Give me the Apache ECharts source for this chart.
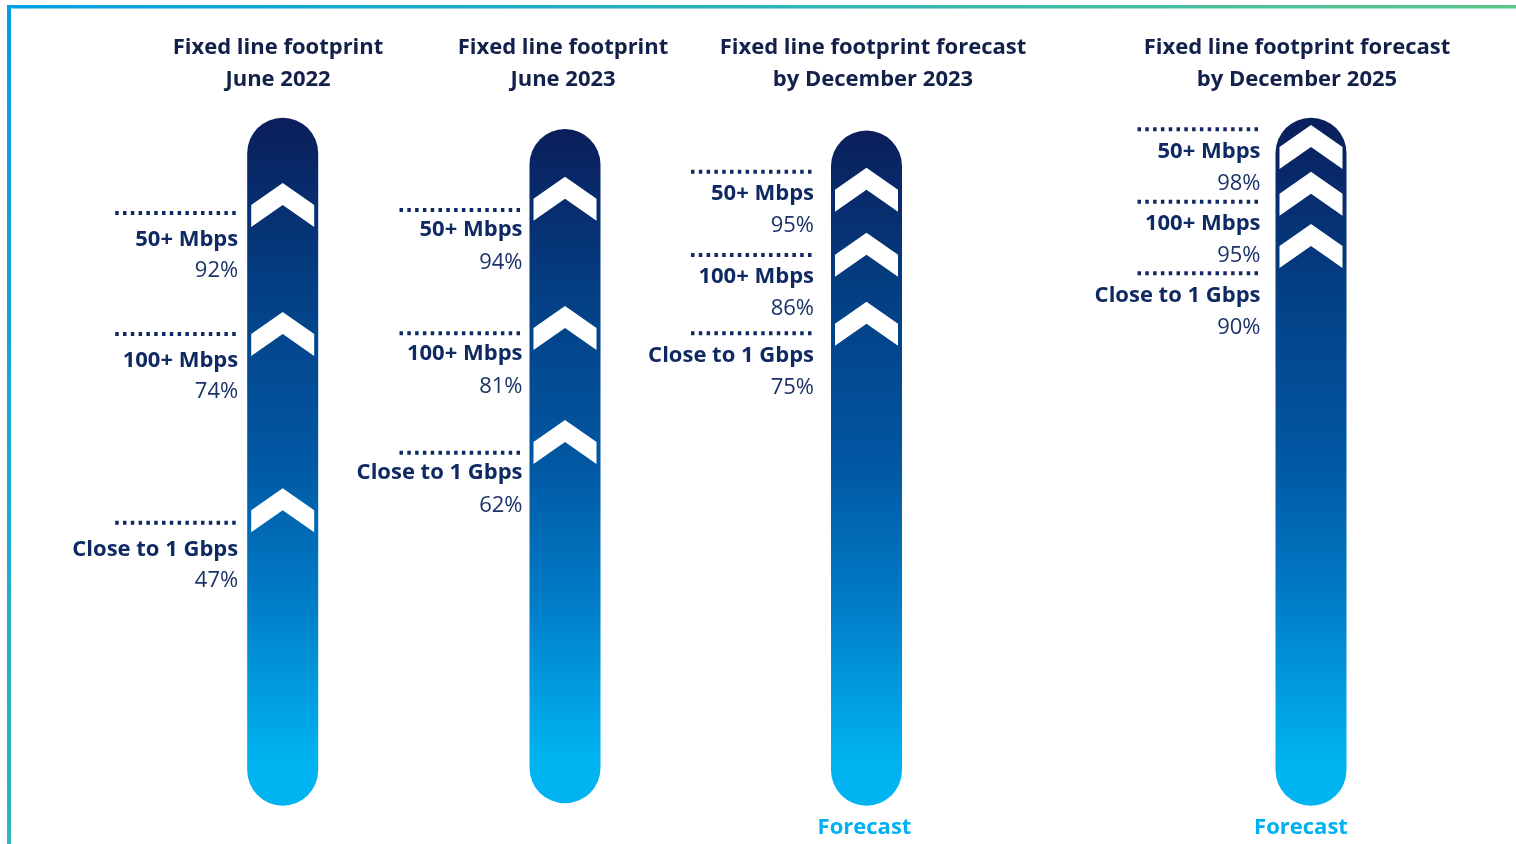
<!DOCTYPE html>
<html><head><meta charset="utf-8">
<script src="https://cdn.jsdelivr.net/npm/echarts@6/dist/echarts.min.js"></script>
<style>html,body{margin:0;padding:0;background:#fff}#c{width:1516px;height:844px}</style>
</head><body><div id="c"></div>
<script>
// ---- data ----
const columnTitles = [
  'Fixed line footprint\nJune 2022',
  'Fixed line footprint\nJune 2023',
  'Fixed line footprint forecast\nby December 2023',
  'Fixed line footprint forecast\nby December 2025'
];
const tiers = ['50+ Mbps', '100+ Mbps', 'Close to 1 Gbps'];
const coverageJun2022 = [92, 74, 47];
const coverageJun2023 = [94, 81, 62];
const forecastDec2023 = [95, 86, 75];
const forecastDec2025 = [98, 95, 90];
const isForecast = [false, false, true, true];
const forecastText = 'Forecast';
const footprintTrack = 100; // full footprint bar

const coverage = [coverageJun2022, coverageJun2023, forecastDec2023, forecastDec2025];

// ---- layout (axis units on a 0-100 track axis per column) ----
const layout = [
  {cx: 282.7, top: 117.7, bottom: 805.7, rows: [86.14, 68.56, 41.13], chev: [87.31, 68.56, 42.94], gap: 8,  nameDy: 27, pctDy: 58, titleX: 278, labShift: 0},
  {cx: 565,   top: 129,   bottom: 803.3, rows: [87.99, 69.70, 51.99], chev: [89.66, 70.49, 53.58], gap: 6,  nameDy: 20, pctDy: 53, titleX: 563, labShift: 0},
  {cx: 866.5, top: 130.5, bottom: 805.7, rows: [93.90, 81.56, 69.96], chev: [91.23, 81.61, 71.39], gap: 16, nameDy: 22, pctDy: 54, titleX: 873, labShift: -2},
  {cx: 1311,  top: 117.7, bottom: 805.7, rows: [98.31, 87.79, 77.38], chev: [95.74, 88.95, 81.35], gap: 14, nameDy: 22, pctDy: 54, titleX: 1297, labShift: -10}
];

const FONT = '"Open Sans", "Noto Sans", sans-serif';
const FS = 22;
const NAVY = '#0f2a62';
const TITLE = '#13204a';
const CYAN = '#00b0f0';
const BAR_W = 71;
const CHEVRON = 'path://M0,22L32,0L64,22L64,44L32,22L0,44Z';

const barGradient = new echarts.graphic.LinearGradient(0, 0, 0, 1, [
  {offset: 0, color: '#0b1e5b'},
  {offset: 0.25, color: '#033f84'},
  {offset: 0.5, color: '#0158a3'},
  {offset: 0.7, color: '#007cc7'},
  {offset: 0.85, color: '#00a0e2'},
  {offset: 0.93, color: '#00b2f0'},
  {offset: 1, color: '#00b4f2'}
]);

const grid = [], xAxis = [], yAxis = [], series = [], title = [];
layout.forEach((L, i) => {
  grid.push({left: L.cx - 80, width: 160, top: L.top, height: L.bottom - L.top, containLabel: false});
  xAxis.push({
    gridIndex: i, type: 'category', data: [columnTitles[i]],
    axisLine: {show: false}, axisTick: {show: false}, splitLine: {show: false},
    axisLabel: {
      show: true, margin: 11, fontFamily: FONT, fontWeight: 'bold', fontSize: FS, color: CYAN,
      padding: L.labShift < 0 ? [0, -2 * L.labShift, 0, 0] : 0,
      formatter: () => isForecast[i] ? forecastText : ''
    }
  });
  yAxis.push({gridIndex: i, type: 'value', min: 0, max: footprintTrack, show: false});
  title.push({
    text: columnTitles[i], left: L.titleX, top: 32, textAlign: 'center', padding: 0,
    textStyle: {fontFamily: FONT, fontWeight: 'bold', fontSize: FS, color: TITLE, lineHeight: 32}
  });
  series.push({
    type: 'bar', xAxisIndex: i, yAxisIndex: i, data: [footprintTrack], barWidth: BAR_W,
    itemStyle: {color: barGradient, borderRadius: BAR_W / 2}, silent: true, animation: false
  });
  series.push({
    type: 'scatter', xAxisIndex: i, yAxisIndex: i, symbol: CHEVRON, symbolSize: [63, 44],
    data: L.chev.map(v => [0, v]), itemStyle: {color: '#ffffff', opacity: 1}, silent: true, animation: false, z: 5
  });
  series.push({
    type: 'custom', xAxisIndex: i, yAxisIndex: i, silent: true, animation: false, z: 6,
    data: L.rows.map((r, k) => [0, r, coverage[i][k]]),
    renderItem: (params, api) => {
      const p = api.coord([0, api.value(1)]);
      const right = p[0] - BAR_W / 2 - L.gap;
      const y = p[1];
      return {
        type: 'group',
        children: [
          {type: 'line', shape: {x1: right - 124, y1: y, x2: right, y2: y},
           style: {stroke: NAVY, lineWidth: 4, lineDash: [3.5, 4.3], lineCap: 'butt'}},
          {type: 'text', style: {text: tiers[params.dataIndex], x: right - 1, y: y + L.nameDy,
            align: 'right', verticalAlign: 'middle', font: 'bold ' + FS + 'px ' + FONT, fill: NAVY}},
          {type: 'text', style: {text: api.value(2) + '%', x: right - 1, y: y + L.pctDy,
            align: 'right', verticalAlign: 'middle', font: FS + 'px ' + FONT, fill: '#1b3268'}}
        ]
      };
    }
  });
});

const chart = echarts.init(document.getElementById('c'), null, {renderer: 'canvas'});
chart.setOption({
  animation: false,
  backgroundColor: '#ffffff',
  title, grid, xAxis, yAxis, series,
  graphic: [
    {type: 'rect', shape: {x: 7, y: 5, width: 1509, height: 3.5}, silent: true,
     style: {fill: new echarts.graphic.LinearGradient(0, 0, 1, 0, [{offset: 0, color: '#00a0e4'}, {offset: 1, color: '#5cc78a'}])}},
    {type: 'rect', shape: {x: 7, y: 5, width: 4, height: 839}, silent: true,
     style: {fill: new echarts.graphic.LinearGradient(0, 0, 0, 1, [{offset: 0, color: '#00a0e4'}, {offset: 1, color: '#2db4bf'}])}}
  ]
});
</script></body></html>
